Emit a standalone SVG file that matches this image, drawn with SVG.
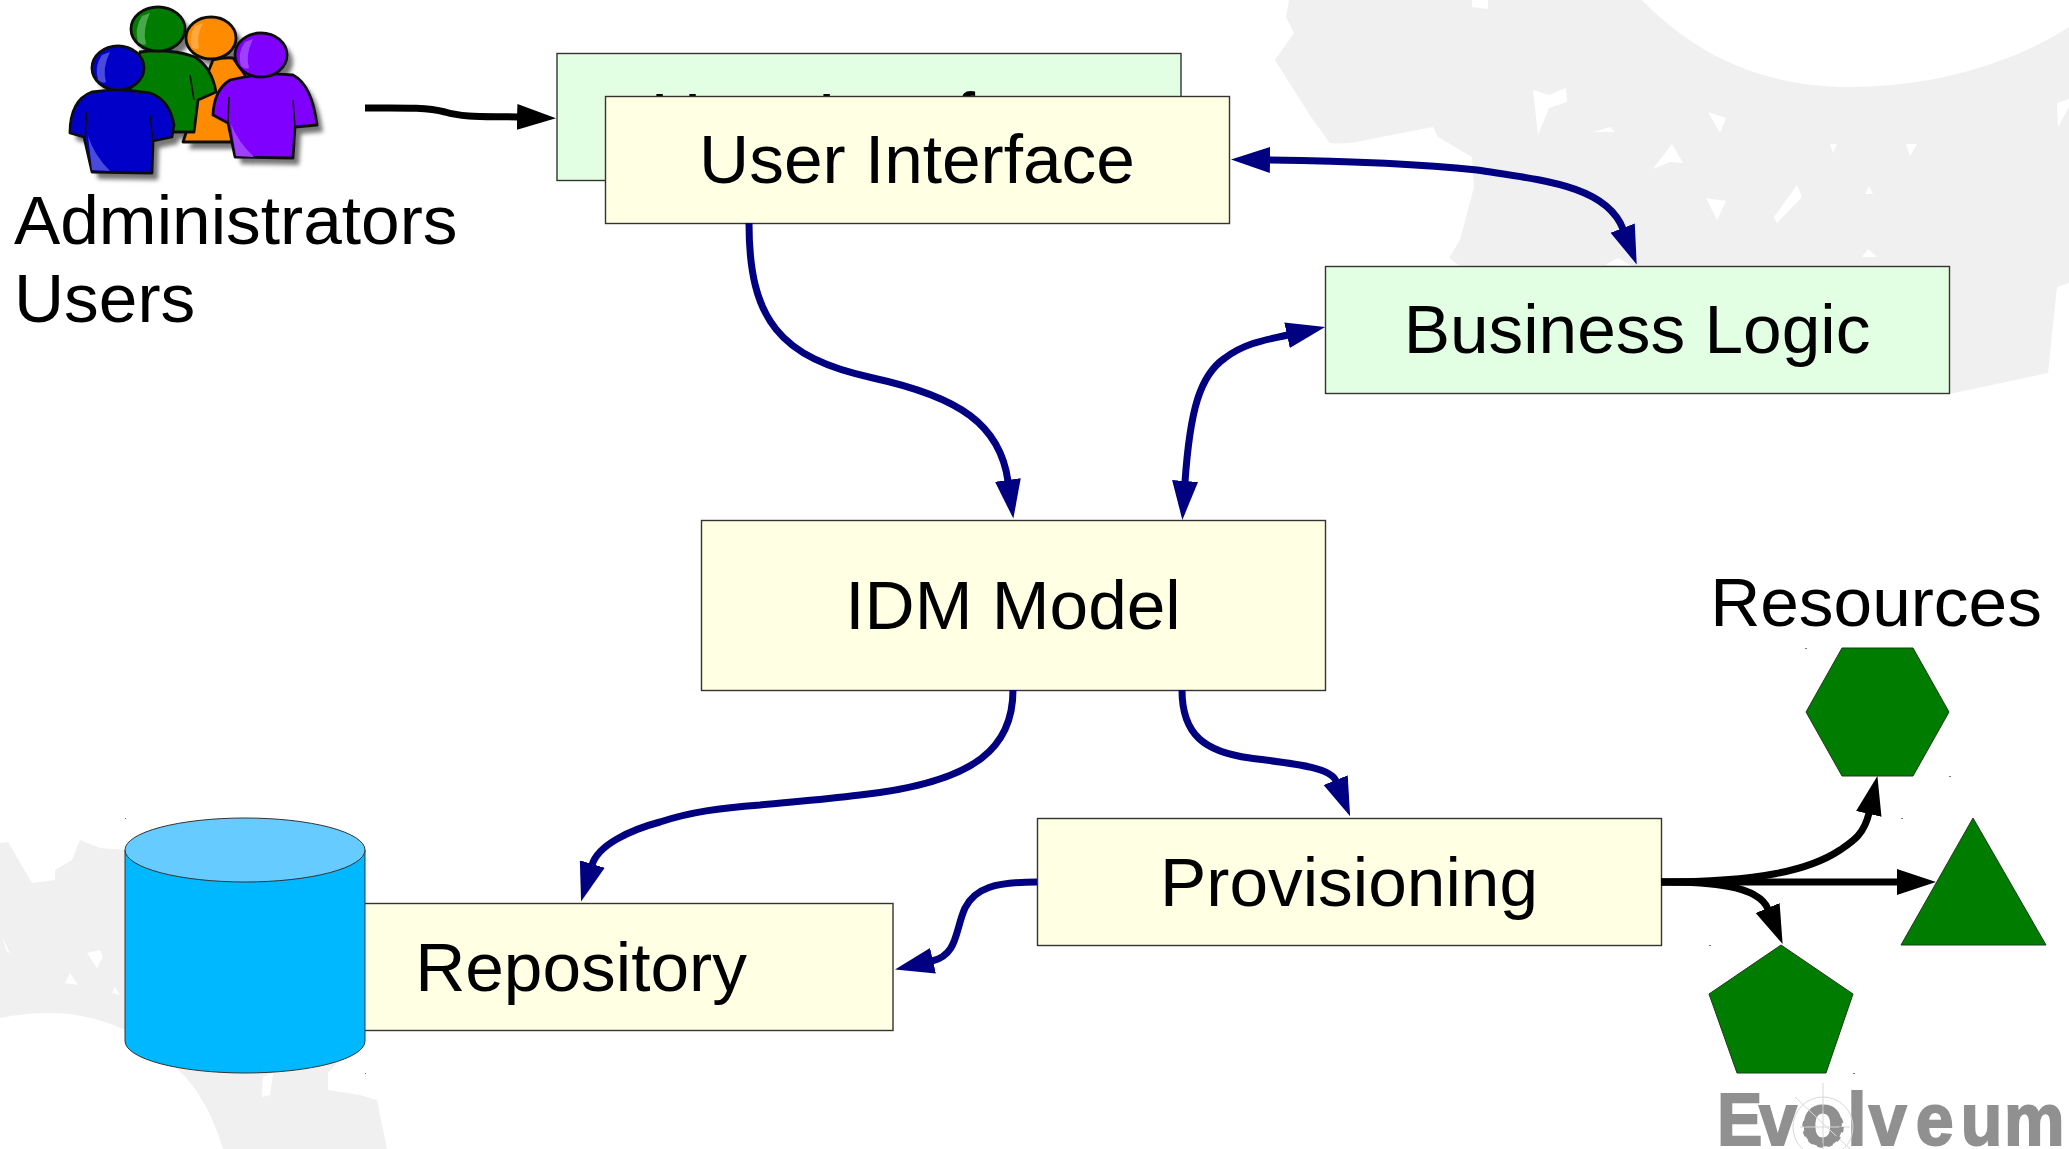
<svg xmlns="http://www.w3.org/2000/svg" xmlns:xlink="http://www.w3.org/1999/xlink" width="2069" height="1149" viewBox="0 0 2069 1149">
<style>
text{font-family:"Liberation Sans",Arial,sans-serif;font-size:69.4px;fill:#000}
.c{text-anchor:middle}
.y{fill:#ffffe4;stroke:#333;stroke-width:1.4}
.g{fill:#e3ffe3;stroke:#333;stroke-width:1.4}
.res{fill:#007c00;stroke:#1c3c1c;stroke-width:1}
.n{fill:none;stroke:#000080;stroke-width:7}
.k{fill:none;stroke:#000;stroke-width:7}
.n.e{marker-end:url(#an)}
.n.b{marker-start:url(#an);marker-end:url(#an)}
.k{marker-end:url(#ak)}
.pp{stroke:#111;stroke-width:2.8;stroke-linejoin:round}
</style>
<defs>
<marker id="an" markerUnits="userSpaceOnUse" markerWidth="42" markerHeight="28" refX="1" refY="14" orient="auto-start-reverse"><path d="M0 1L39 14L0 27Z" fill="#000080"/></marker>
<marker id="ak" markerUnits="userSpaceOnUse" markerWidth="42" markerHeight="28" refX="1" refY="14" orient="auto-start-reverse"><path d="M0 1L39 14L0 27Z" fill="#000"/></marker>
<filter id="bl" x="-30%" y="-30%" width="160%" height="160%"><feGaussianBlur stdDeviation="2.2"/></filter>
<filter id="sf" x="-5%" y="-5%" width="110%" height="110%"><feGaussianBlur stdDeviation="0.6"/></filter>
<g id="shape">
<ellipse cx="211" cy="38" rx="25" ry="21"/><path d="M213 60Q225 57 233 58L245 75L235 142L183 142L197 100Z"/>
<ellipse cx="158" cy="29" rx="27" ry="22"/><path d="M140 52Q170 48 195 57Q212 68 216 92L198 100L194 132L170 132L130 90Z"/>
<ellipse cx="118" cy="68" rx="26" ry="22"/><path d="M92 92Q120 88 150 93Q170 100 174 125L172 137L153 141L152 173L92 172L84 137L70 133Q70 100 92 92Z"/>
<ellipse cx="261" cy="55" rx="26" ry="22"/><path d="M230 80Q262 72 293 75Q312 85 317 125L295 127L293 158L235 157L228 123L213 115Q214 90 230 80Z"/>
</g>
</defs>
<g id="watermark" fill="#f0f0f0" fill-rule="evenodd">
<path d="M1289 0L1286 17L1294 33L1275 60L1311 117L1330 143Q1345 145 1366 140L1433 127L1438 137L1472 157L1474 187L1460 240L1449 258L1460 266V380H1940L1949 393H1954L2048 373L2057 287L2069 283V27C2010 65 1930 87 1850 87C1770 87 1700 60 1642 0ZM1472 0L1488 0L1488 9L1472 7ZM1533 90L1549 95L1566 88L1567 102L1549 108L1538 135ZM1708 112L1726 118L1720 133ZM1672 144L1683 163L1670 162L1653 169ZM1830 144L1837 144L1833 153ZM1906 144L1917 144L1910 156ZM1706 198L1726 201L1717 220ZM1797 185L1802 197L1777 223L1774 217ZM1869 186L1873 194L1865 194ZM2057 103L2069 99L2069 107L2058 127ZM1868 249L1877 257L1862 257ZM1605 265L1618 258L1632 266ZM1610 127L1615 132L1593 132Z"/>
<path d="M0 843L8 842L32 883L55 880L55 870L72 860L80 840L100 848L125 850L300 850L340 1060L328 1073L328 1090L360 1095L377 1100L387 1149L223 1149C213 1115 196 1085 178 1070L170 1060L125 1030C100 1018 70 1012 47 1013C30 1013 15 1015 0 1018ZM2 937L10 953L7 952ZM87 953L100 950L103 957L97 968ZM70 973L78 985L65 983ZM115 987L120 995L112 993ZM263 1077L273 1073L270 1095L262 1097Z"/>
</g>
<g id="people">
<use xlink:href="#shape" href="#shape" transform="translate(6 7)" fill="#777" filter="url(#bl)"/>
<g filter="url(#sf)" class="pp">
<ellipse cx="211" cy="38" rx="25" ry="21" fill="#ff8c00"/><path d="M213 60Q225 57 233 58L245 75L235 142L183 142L197 100Z" fill="#ff8c00"/>
<path d="M140 52Q170 48 195 57Q212 68 216 92L198 100L194 132L170 132L130 90Z" fill="#007c00"/><ellipse cx="158" cy="29" rx="27" ry="22" fill="#007c00"/>
<path d="M92 92Q120 88 150 93Q170 100 174 125L172 137L153 141L152 173L92 172L84 137L70 133Q70 100 92 92Z" fill="#0000c8"/><ellipse cx="118" cy="68" rx="26" ry="22" fill="#0000c8"/>
<path d="M230 80Q262 72 293 75Q312 85 317 125L295 127L293 158L235 157L228 123L213 115Q214 90 230 80Z" fill="#8000ff"/><ellipse cx="261" cy="55" rx="26" ry="22" fill="#8000ff"/>
<path d="M87 112L85 137M150 115L153 140M190 75L194 100M229 97L228 123M293 100L295 127" fill="none" stroke-width="1.6"/>
<g stroke="none">
<path d="M102 55Q94 66 98 80Q103 84 106 82Q102 68 110 52Z" fill="#4a4ae0"/>
<path d="M142 16Q134 28 138 42Q143 46 146 44Q142 30 150 13Z" fill="#4aa84a"/>
<path d="M195 26Q188 36 192 48Q197 50 199 48Q196 36 203 23Z" fill="#ffa840"/>
<path d="M245 42Q237 53 241 66Q246 70 249 68Q245 55 253 39Z" fill="#a040ff"/>
<path d="M88 136L92 170L110 171Q94 155 88 136Z" fill="#4a4ae0"/>
<path d="M231 124L236 156L254 157Q238 142 231 124Z" fill="#a040ff"/>
</g>
</g>
</g>
<text id="actors-1" x="14" y="243.500">Administrators</text>
<text id="actors-2" x="14" y="321.500">Users</text>
<g id="ui-back"><rect class="g" x="557" y="53.5" width="624" height="127"/><text class="c" x="869" y="141">User Interface</text></g>
<g id="ui"><rect class="y" x="605.500" y="96.500" width="624" height="127"/><text class="c" x="917" y="183">User Interface</text></g>
<g id="business-logic"><rect class="g" x="1325.500" y="266.500" width="624" height="127"/><text class="c" x="1637" y="353">Business Logic</text></g>
<g id="idm-model"><rect class="y" x="701.500" y="520.500" width="624" height="170"/><text class="c" x="1013" y="629">IDM Model</text></g>
<g id="provisioning"><rect class="y" x="1037.500" y="818.500" width="624" height="127"/><text class="c" x="1349" y="906">Provisioning</text></g>
<g id="repository"><rect class="y" x="269" y="903.500" width="624" height="127"/><text class="c" x="581" y="991">Repository</text>
<path d="M125 850V1041A120 32 0 0 0 365 1041V850Z" fill="#00b8ff" stroke="#333" stroke-width="1"/><ellipse cx="245" cy="850" rx="120" ry="32" fill="#66ccff" stroke="#333" stroke-width="1"/></g>
<text id="resources" class="c" x="1876" y="626">Resources</text>
<g id="res-hexagon"><polygon class="res" points="1806,712 1842,648 1913,648 1949,712 1913,776 1842,776"/></g>
<g id="res-triangle"><polygon class="res" points="1973,818 2046,945 1901,945"/></g>
<g id="res-pentagon"><polygon class="res" points="1781,945 1853,994 1826,1073 1737,1073 1709,994"/></g>
<path id="marks" d="M125 818h1v1h-1zM365 1073h1v1h-1zM1805 648h2v1h-2zM1949 776h2v1h-2zM1901 818h2v1h-2zM1709 945h2v1h-2zM1853 1073h2v1h-2z" fill="#777"/>
<g id="logo">
<text transform="translate(1717 1145) scale(.92 1)" x="0 45.7 92.4 141.800 165 216 265 312" style="font-size:74px;font-weight:700;fill:#909090;stroke:#909090;stroke-width:2">Evolveum</text>
<g fill="none">
<circle cx="1823" cy="1127" r="30" stroke="#d8d8d8" stroke-width="1"/>
<path d="M1795 1097L1850 1149M1823 1083V1149M1800 1127H1850" stroke="#d8d8d8" stroke-width="1"/>
<circle cx="1823" cy="1127" r="18.500" stroke="#909090" stroke-width="4.500" stroke-dasharray="5.200 4.500"/>
</g>
</g>
<g id="connectors">
<path class="k" d="M365 108C400 108 425 107 445 112C465 118 490 116 518 117"/>
<path class="n e" d="M749 223C749 320 780 358 873 378C960 397 1000 425 1008 481"/>
<path class="n b" d="M1185 482C1190 410 1200 375 1225 358C1245 343 1265 340 1288 335"/>
<path class="n b" d="M1269 160C1350 161 1420 164 1477 170C1540 180 1606 185 1623 229"/>
<path class="n e" d="M1013 690C1013 745 980 782 860 795C820 800 790 802 760 805C720 808 690 812 660 822C630 830 598 845 592 865"/>
<path class="n e" d="M1182 690C1182 735 1205 752 1250 758C1285 763 1330 766 1336 781"/>
<path class="n e" d="M1037 882C995 882 975 888 965 908C955 930 958 955 932 961"/>
<path class="k" d="M1661 882C1760 882 1810 870 1840 850C1852 842 1864 835 1869 813"/>
<path class="k" d="M1661 882H1898"/>
<path class="k" d="M1661 882C1710 882 1758 885 1768 909"/>
</g>
</svg>
